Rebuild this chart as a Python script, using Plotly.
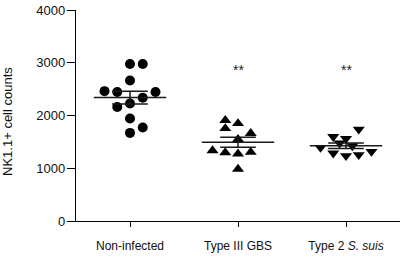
import numpy as np
import plotly.graph_objects as go

categories = ["Non-infected", "Type III GBS", "Type 2 <i>S. suis</i>"]
non_infected = [2977, 2977, 2663, 2462, 2444, 2444, 2338, 2226, 2162, 1943, 1774, 1670]
non_infected_slot = [0, 1, 0, -2, -1, 2, 1, 0, -1, 0, 1, 0]
gbs = [1910, 1755, 1850, 1662, 1549, 1335, 1297, 1273, 1304, 985]
gbs_slot = [-1, -1, 0, 1, 0, -2, -1, 0, 1, 0]
suis = [1737, 1598, 1560, 1474, 1423, 1391, 1286, 1235, 1254, 1316]
suis_slot = [1, -1, 0, -0.5, 0.5, -2, -1, 0, 1, 2]
y_ticks = [0, 1000, 2000, 3000, 4000]
y_label = "NK1.1+ cell counts"
significance = ["", "**", "**"]

groups = [(non_infected, non_infected_slot, "circle"),
          (gbs, gbs_slot, "triangle-up"),
          (suis, suis_slot, "triangle-down")]

slot_w = 0.118
fig = go.Figure()
for i, (vals, slots, sym) in enumerate(groups):
    vals = np.array(vals, dtype=float)
    xs = [i + s * slot_w for s in slots]
    fig.add_trace(go.Scatter(x=xs, y=vals, mode="markers",
                             marker=dict(symbol=sym, size=10 if sym == "circle" else 10.5, color="black"),
                             showlegend=False, hoverinfo="y"))
    m = vals.mean()
    sem = vals.std(ddof=1) / np.sqrt(len(vals))
    fig.add_trace(go.Scatter(x=[i - 0.335, i + 0.335], y=[m, m], mode="lines",
                             line=dict(color="#1a1a1a", width=1.5), showlegend=False, hoverinfo="skip"))
    for yy in (m - sem, m + sem):
        fig.add_trace(go.Scatter(x=[i - 0.165, i + 0.165], y=[yy, yy], mode="lines",
                                 line=dict(color="#1a1a1a", width=1.5), showlegend=False, hoverinfo="skip"))
    fig.add_trace(go.Scatter(x=[i, i], y=[m - sem, m + sem], mode="lines",
                             line=dict(color="#1a1a1a", width=1.5), showlegend=False, hoverinfo="skip"))
    if significance[i]:
        fig.add_annotation(x=i, y=2865, text=significance[i], showarrow=False,
                           font=dict(size=14, color="#222"), yanchor="middle")

fig.add_annotation(xref="paper", yref="paper", x=-0.21, y=0.474, text=y_label,
                   xanchor="center", yanchor="middle",
                   textangle=-90, showarrow=False, font=dict(size=13, color="#111"))

fig.update_layout(
    width=403, height=256,
    margin=dict(l=76, r=3, t=9, b=34),
    paper_bgcolor="white", plot_bgcolor="white",
    font=dict(family="Liberation Sans, Arial, sans-serif", color="#111"),
    xaxis=dict(range=[-0.5, 2.5], tickvals=[0, 1, 2], ticktext=categories,
               showgrid=False, zeroline=False, showline=True, linecolor="black", linewidth=1.3,
               ticks="outside", ticklen=5, tickwidth=1.3, tickcolor="black",
               ticklabelstandoff=8, tickfont=dict(size=12)),
    yaxis=dict(range=[0, 4000], tickvals=y_ticks,
               showgrid=False, zeroline=False, showline=True, linecolor="black", linewidth=1.3,
               ticks="outside", ticklen=8, tickwidth=1.3, tickcolor="black",
               ticklabelstandoff=-1, tickfont=dict(size=13)),
)
fig.write_html("out.html", config={"displayModeBar": False},
               post_script="document.body.style.margin='0';document.body.style.padding='0';")
